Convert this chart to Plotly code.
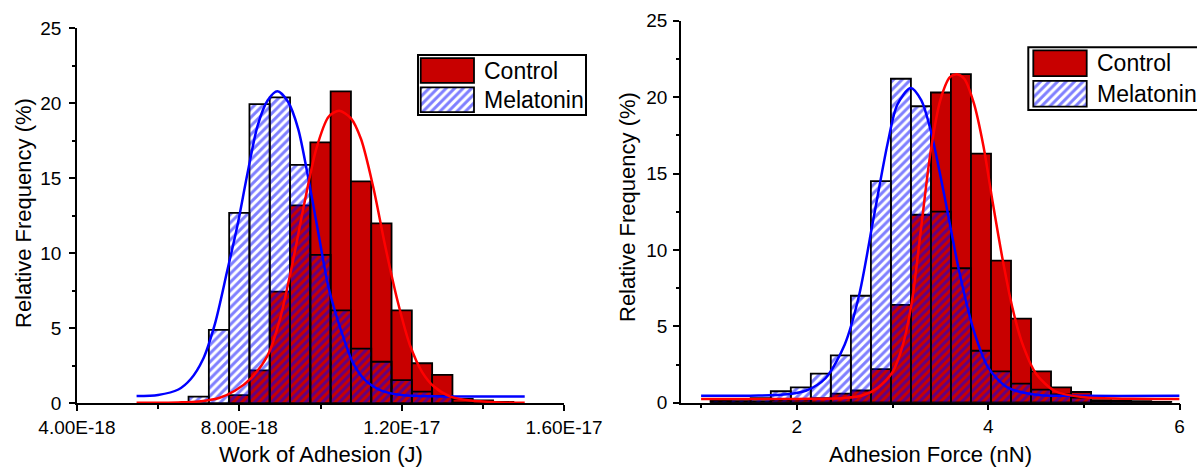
import plotly.graph_objects as go

# ---------------- data ----------------
# Left panel: Work of Adhesion (J), bin width 0.5e-18
wa_bin_centers = [7.0e-18, 7.5e-18, 8.0e-18, 8.5e-18, 9.0e-18, 9.5e-18, 10.0e-18, 10.5e-18,
                  11.0e-18, 11.5e-18, 12.0e-18, 12.5e-18, 13.0e-18, 13.5e-18, 14.0e-18, 14.5e-18]
wa_bin_width = 0.5e-18
wa_control = [0, 0, 0.55, 2.2, 7.44, 13.2, 17.4, 20.8, 14.8, 12.0, 6.2, 2.67, 1.9, 0.3, 0.2, 0.1]
wa_melatonin = [0.44, 4.9, 12.7, 19.95, 20.4, 15.9, 9.9, 6.2, 3.64, 2.77, 1.55, 0.78, 0.5, 0.05, 0, 0]

wa_mel_fit_x = [5.47e-18, 6.0e-18, 6.5e-18, 6.8e-18, 7.1e-18, 7.4e-18, 7.7e-18, 7.95e-18, 8.2e-18,
                8.45e-18, 8.7e-18, 8.94e-18, 9.2e-18, 9.45e-18, 9.7e-18, 9.95e-18, 10.2e-18,
                10.5e-18, 10.8e-18, 11.1e-18, 11.5e-18, 12.0e-18, 13.0e-18, 15.03e-18]
wa_mel_fit_y = [0.49, 0.56, 0.92, 1.6, 2.9, 5.3, 8.8, 11.8, 15.3, 18.5, 20.2, 20.8, 20.1, 18.3,
                15.0, 11.3, 7.7, 4.9, 2.7, 1.55, 0.85, 0.55, 0.46, 0.45]
wa_ctl_fit_x = [5.47e-18, 6.5e-18, 7.0e-18, 7.5e-18, 7.9e-18, 8.3e-18, 8.7e-18, 9.0e-18, 9.3e-18,
                9.6e-18, 9.9e-18, 10.2e-18, 10.46e-18, 10.75e-18, 11.0e-18, 11.3e-18, 11.6e-18,
                11.9e-18, 12.2e-18, 12.5e-18, 12.8e-18, 13.2e-18, 13.7e-18, 14.3e-18, 15.03e-18]
wa_ctl_fit_y = [0.03, 0.06, 0.12, 0.35, 0.85, 1.7, 3.2, 5.6, 9.2, 13.3, 17.0, 19.1, 19.5, 19.0,
                17.6, 14.4, 10.4, 6.8, 3.9, 2.1, 1.1, 0.45, 0.18, 0.07, 0.03]

wa_tickvals = [4.0e-18, 8.0e-18, 1.2e-17, 1.6e-17]
wa_ticktext = ["4.00E-18", "8.00E-18", "1.20E-17", "1.60E-17"]

# Right panel: Adhesion Force (nN), bin width ~0.209
af_bin_centers = [1.205, 1.414, 1.623, 1.833, 2.042, 2.251, 2.460, 2.670, 2.879, 3.088, 3.297,
                  3.506, 3.715, 3.925, 4.134, 4.343, 4.552, 4.762, 4.971, 5.180, 5.389, 5.599, 5.808]
af_bin_width = 0.2092
af_control = [0.1, 0.1, 0.1, 0.15, 0.2, 0.3, 0.6, 0.8, 2.2, 6.4, 12.3, 20.3, 21.5, 16.3, 9.3,
              5.5, 2.05, 1.0, 0.7, 0.17, 0.15, 0.1, 0.05]
af_melatonin = [0.15, 0.2, 0.3, 0.75, 1.0, 1.9, 3.1, 7.0, 14.5, 21.2, 19.4, 12.5, 8.8, 3.4, 2.05,
                1.25, 0.85, 0.55, 0.33, 0.1, 0.05, 0, 0]

af_mel_fit_x = [1.0, 1.6, 1.9, 2.1, 2.3, 2.5, 2.65, 2.8, 2.95, 3.05, 3.19, 3.3, 3.4, 3.55, 3.7,
                3.85, 4.0, 4.2, 4.5, 5.0, 6.0]
af_mel_fit_y = [0.45, 0.47, 0.55, 0.8, 1.6, 3.8, 7.0, 12.0, 17.0, 19.5, 20.6, 19.8, 17.8, 13.3,
                8.5, 4.7, 2.3, 1.0, 0.52, 0.45, 0.45]
af_ctl_fit_x = [1.0, 2.0, 2.5, 2.7, 2.85, 3.0, 3.1, 3.2, 3.3, 3.4, 3.5, 3.6, 3.675, 3.75, 3.85,
                3.95, 4.05, 4.15, 4.25, 4.35, 4.5, 4.7, 5.0, 5.5, 6.0]
af_ctl_fit_y = [0.25, 0.25, 0.3, 0.5, 1.0, 2.0, 3.6, 6.5, 11.5, 16.5, 19.8, 21.3, 21.5, 21.2,
                19.6, 16.8, 13.0, 9.4, 6.3, 4.0, 1.9, 0.75, 0.35, 0.26, 0.25]

series_names = ["Control", "Melatonin"]
x_titles = ["Work of Adhesion (J)", "Adhesion Force (nN)"]
y_title = "Relative Frequency (%)"

# ---------------- styling ----------------
W, H = 1197, 469
FONT = "Liberation Sans, Arial, sans-serif"
RED_BAR = "#C80000"
BLUE = "#0000FF"
RED_LINE = "#FF0000"


def fx(p):
    return p / W


def fy(p):
    return 1 - p / H


PATTERN = dict(shape="/", fgcolor=BLUE, size=6, solidity=0.5)
solid = dict(color=RED_BAR, line=dict(color="black", width=1.8))
hatch = dict(color="rgba(0,0,0,0)", line=dict(color="black", width=1.8),
             pattern=dict(bgcolor="rgba(0,0,0,0)", **PATTERN))

fig = go.Figure()

# left panel
fig.add_trace(go.Bar(x=wa_bin_centers, y=wa_control, width=wa_bin_width, marker=solid,
                     name=series_names[0], xaxis="x", yaxis="y", showlegend=False))
fig.add_trace(go.Bar(x=wa_bin_centers, y=wa_melatonin, width=wa_bin_width, marker=hatch,
                     name=series_names[1], xaxis="x", yaxis="y", showlegend=False))
fig.add_trace(go.Scatter(x=wa_mel_fit_x, y=wa_mel_fit_y, mode="lines",
                         line=dict(color=BLUE, width=2.5, shape="spline", smoothing=0.8),
                         xaxis="x", yaxis="y", showlegend=False))
fig.add_trace(go.Scatter(x=wa_ctl_fit_x, y=wa_ctl_fit_y, mode="lines",
                         line=dict(color=RED_LINE, width=2.5, shape="spline", smoothing=0.8),
                         xaxis="x", yaxis="y", showlegend=False))

# right panel
fig.add_trace(go.Bar(x=af_bin_centers, y=af_control, width=af_bin_width, marker=solid,
                     name=series_names[0], xaxis="x2", yaxis="y2", showlegend=False))
fig.add_trace(go.Bar(x=af_bin_centers, y=af_melatonin, width=af_bin_width, marker=hatch,
                     name=series_names[1], xaxis="x2", yaxis="y2", showlegend=False))
fig.add_trace(go.Scatter(x=af_mel_fit_x, y=af_mel_fit_y, mode="lines",
                         line=dict(color=BLUE, width=2.5, shape="spline", smoothing=0.8),
                         xaxis="x2", yaxis="y2", showlegend=False))
fig.add_trace(go.Scatter(x=af_ctl_fit_x, y=af_ctl_fit_y, mode="lines",
                         line=dict(color=RED_LINE, width=2.5, shape="spline", smoothing=0.8),
                         xaxis="x2", yaxis="y2", showlegend=False))

# legend swatches (drawn as bars on small hidden axes)
for xa, ya in (("x3", "y3"), ("x4", "y4")):
    fig.add_trace(go.Bar(x=[1], y=[1], orientation="h", width=0.85, marker=solid,
                         xaxis=xa, yaxis=ya, showlegend=False, hoverinfo="skip"))
    fig.add_trace(go.Bar(x=[1], y=[0], orientation="h", width=0.85,
                         marker=dict(color="white", line=dict(color="black", width=1.8),
                                     pattern=dict(bgcolor="white", **PATTERN)),
                         xaxis=xa, yaxis=ya, showlegend=False, hoverinfo="skip"))

axis_common = dict(showline=True, linecolor="black", linewidth=1.5, ticks="outside",
                   ticklen=6, tickwidth=1.5, tickcolor="black", showgrid=False,
                   zeroline=False, mirror=False, automargin=False,
                   tickfont=dict(family=FONT, size=19, color="black"))
minor_common = dict(ticks="outside", ticklen=3.5, tickwidth=1.5, tickcolor="black", showgrid=False)

hidden = dict(visible=False, showgrid=False, zeroline=False, fixedrange=True, automargin=False)

fig.update_layout(
    width=W, height=H, autosize=False,
    margin=dict(l=0, r=0, t=0, b=0, pad=0, autoexpand=False),
    paper_bgcolor="white", plot_bgcolor="rgba(0,0,0,0)",
    barmode="overlay", showlegend=False,
    font=dict(family=FONT, color="black"),
    xaxis=dict(domain=[fx(76.9), fx(564.1)], anchor="y", range=[4.0e-18, 1.6e-17],
               tickmode="array", tickvals=wa_tickvals, ticktext=wa_ticktext,
               minor=dict(tickmode="linear", tick0=4.0e-18, dtick=2.0e-18, **minor_common),
               **axis_common),
    yaxis=dict(domain=[fy(403.3), fy(28.3)], anchor="x", range=[0, 25], dtick=5, tick0=0,
               minor=dict(dtick=2.5, tick0=0, **minor_common), ticklabelstandoff=4,
               **axis_common),
    xaxis2=dict(domain=[fx(681), fx(1179.6)], anchor="y2", range=[0.79, 6], dtick=2, tick0=0,
                minor=dict(dtick=1, tick0=0, **minor_common), **axis_common),
    yaxis2=dict(domain=[fy(402.7), fy(20.7)], anchor="x2", range=[0, 25], dtick=5, tick0=0,
                minor=dict(dtick=2.5, tick0=0, **minor_common), ticklabelstandoff=2,
                **axis_common),
    xaxis3=dict(domain=[fx(419.1), fx(475.6)], anchor="y3", range=[-0.03, 1.03], **hidden),
    yaxis3=dict(domain=[fy(114.3), fy(55.9)], anchor="x3", range=[-0.5, 1.5], **hidden),
    xaxis4=dict(domain=[fx(1031.7), fx(1088.3)], anchor="y4", range=[-0.03, 1.03], **hidden),
    yaxis4=dict(domain=[fy(108.9), fy(48.1)], anchor="x4", range=[-0.5, 1.5], **hidden),
)

# legend frames
fig.add_shape(type="rect", xref="paper", yref="paper", x0=fx(418), x1=fx(586),
              y0=fy(115), y1=fy(55), line=dict(color="black", width=2), fillcolor="rgba(0,0,0,0)",
              layer="below")
fig.add_shape(type="rect", xref="paper", yref="paper", x0=fx(1028.3), x1=fx(1220),
              y0=fy(110), y1=fy(47.3), line=dict(color="black", width=2), fillcolor="rgba(0,0,0,0)",
              layer="below")

ann_font = dict(family=FONT, size=23, color="black")
title_font = dict(family=FONT, size=22, color="black")
annotations = [
    dict(text=series_names[0], x=fx(481.7), y=fy(70.5), xanchor="left", yanchor="middle", font=ann_font),
    dict(text=series_names[1], x=fx(481.7), y=fy(99.7), xanchor="left", yanchor="middle", font=ann_font),
    dict(text=series_names[0], x=fx(1095), y=fy(63.3), xanchor="left", yanchor="middle", font=ann_font),
    dict(text=series_names[1], x=fx(1095), y=fy(93.7), xanchor="left", yanchor="middle", font=ann_font),
    dict(text=x_titles[0], x=fx(320.5), y=fy(454), xanchor="center", yanchor="middle", font=title_font),
    dict(text=x_titles[1], x=fx(930), y=fy(454), xanchor="center", yanchor="middle", font=title_font),
    dict(text=y_title, x=fx(23), y=fy(213), xanchor="center", yanchor="middle", textangle=-90,
         font=title_font),
    dict(text=y_title, x=fx(627.5), y=fy(207.5), xanchor="center", yanchor="middle", textangle=-90,
         font=title_font),
]
for a in annotations:
    fig.add_annotation(xref="paper", yref="paper", showarrow=False, **a)

fig.write_html("out.html")
